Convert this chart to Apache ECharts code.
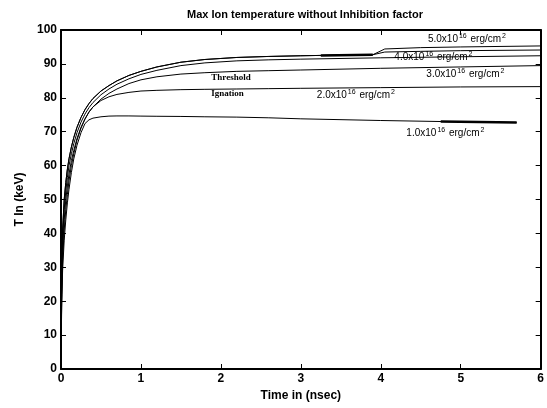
<!DOCTYPE html>
<html>
<head>
<meta charset="utf-8">
<script src="https://cdn.jsdelivr.net/npm/echarts@6/dist/echarts.min.js"></script>
<style>
html,body{margin:0;padding:0;background:#fff;}
#c{width:547px;height:408px;}
</style>
</head>
<body>
<div id="c"></div>
<script>
// ---- data ----
var xTicks = [0, 1, 2, 3, 4, 5, 6];
var yTicks = [0, 10, 20, 30, 40, 50, 60, 70, 80, 90, 100];

var tAB = [0, 0.01, 0.02, 0.04, 0.06, 0.08, 0.1, 0.13, 0.16, 0.2, 0.25, 0.3, 0.35, 0.4, 0.5, 0.6, 0.7, 0.85, 1.0, 1.2, 1.5, 1.8, 2.2, 2.6, 3, 3.5, 3.9, 4.05, 4.5, 5, 6];
var vA  = [8, 32, 41, 50, 55, 59, 62, 65.5, 68.3, 71.3, 74.2, 76.5, 78.3, 79.8, 82, 83.6, 85, 86.6, 87.8, 89.1, 90.5, 91.3, 91.9, 92.2, 92.4, 92.6, 92.7, 94.4, 94.8, 95.0, 95.3];
var vB  = [8, 32, 41, 50, 55, 59, 62, 65.5, 68.3, 71.3, 74.2, 76.5, 78.3, 79.8, 82, 83.6, 85, 86.6, 87.8, 89.1, 90.5, 91.3, 91.9, 92.2, 92.4, 92.6, 92.7, 93.5, 93.7, 93.9, 94.1];

var tStd = [0, 0.01, 0.02, 0.04, 0.06, 0.08, 0.1, 0.13, 0.16, 0.2, 0.25, 0.3, 0.35, 0.4, 0.5, 0.6, 0.7, 0.85, 1.0, 1.2, 1.5, 1.8, 2.2, 2.6, 3, 4, 5, 6];
var vC = [8, 28, 38, 47, 52.5, 56.5, 60, 63.5, 66.5, 69.7, 72.8, 75.2, 77.1, 78.6, 80.9, 82.6, 84, 85.6, 86.9, 88.1, 89.5, 90.3, 90.9, 91.2, 91.4, 91.8, 92.1, 92.4];
var vD = [7, 25, 35, 44, 50, 54, 57.5, 61.5, 64.5, 68, 71.3, 73.8, 75.8, 77.3, 79.6, 81.3, 82.6, 84.2, 85.3, 86.2, 87, 87.4, 87.8, 88, 88.2, 88.7, 89.1, 89.5];
var vE = [6, 22, 32, 41, 47, 51.5, 55.5, 60, 63.5, 67.5, 71, 73.7, 75.8, 77.3, 79.2, 80.3, 81.0, 81.6, 82, 82.2, 82.4, 82.5, 82.6, 82.7, 82.8, 83.0, 83.2, 83.3];

var tF = [0, 0.01, 0.02, 0.04, 0.06, 0.08, 0.1, 0.13, 0.16, 0.2, 0.25, 0.3, 0.35, 0.4, 0.5, 0.6, 0.7, 0.85, 1.0, 1.2, 1.5, 1.8, 2.2, 2.6, 3, 4, 5, 5.7];
var vF = [5, 20, 29, 38, 44, 49, 53, 58, 62, 66, 69.7, 72.4, 73.5, 74.0, 74.4, 74.6, 74.65, 74.65, 74.6, 74.55, 74.5, 74.4, 74.3, 74.1, 73.8, 73.3, 72.9, 72.7];

// overlapping (doubled) segments that look thicker in the original
var tThickAB = [3.25, 3.9];
var vThickAB = [92.5, 92.7];
var tThickF = [4.75, 5.7];
var vThickF = [73.0, 72.7];

// annotation texts
var labelTexts = [
  '5.0x10{s|16} erg/cm{s|2}',
  '4.0x10{s|16} erg/cm{s|2}',
  '3.0x10{s|16} erg/cm{s|2}',
  '{t|Threshold}',
  '{t|Ignation}',
  '2.0x10{s|16} erg/cm{s|2}',
  '1.0x10{s|16} erg/cm{s|2}'
];
// anchor (data coordinates) for each annotation, layout only
var labelAnchors = [[4.59, 97.3], [4.17, 92.0], [4.57, 87.0], [1.88, 85.8], [1.88, 81.1], [3.20, 80.8], [4.32, 69.6]];

function pairs(t, v) { return t.map(function (x, i) { return [x, v[i]]; }); }

var chart = echarts.init(document.getElementById('c'), null, {renderer: 'canvas'});
var FONT = 'Liberation Sans';
var lineSeries = function (t, v, w) {
  return {
    type: 'line', data: pairs(t, v), showSymbol: false, symbol: 'none', smooth: false,
    lineStyle: {color: '#000', width: w || 1}, animation: false, silent: true, z: 3
  };
};
function axisCommon() {
  return {
    axisLine: {show: true, onZero: false, lineStyle: {color: '#000', width: 2}},
    axisTick: {show: true, inside: true, length: 5, lineStyle: {color: '#000', width: 1}},
    splitLine: {show: false}
  };
}

chart.setOption({
  backgroundColor: '#fff',
  animation: false,
  title: {
    text: 'Max Ion temperature without Inhibition factor',
    left: 300, top: 4, textAlign: 'center',
    textStyle: {fontFamily: FONT, fontSize: 11, fontWeight: 'bold', color: '#000'}
  },
  grid: {left: 61, right: 4, top: 30, bottom: 39, containLabel: false},
  xAxis: [
    Object.assign(axisCommon(), {
      type: 'value', min: 0, max: 6, interval: 1, position: 'bottom',
      name: 'Time in (nsec)', nameLocation: 'middle', nameGap: 20,
      nameTextStyle: {fontFamily: FONT, fontSize: 12, fontWeight: 'bold', color: '#000'},
      axisLabel: {fontFamily: FONT, fontSize: 12, fontWeight: 'bold', color: '#000', margin: 4,
        formatter: function (v) { return xTicks.indexOf(v) >= 0 ? String(v) : ''; }}
    }),
    Object.assign(axisCommon(), {
      type: 'value', min: 0, max: 6, interval: 1, position: 'top', axisLabel: {show: false}
    })
  ],
  yAxis: [
    Object.assign(axisCommon(), {
      type: 'value', min: 0, max: 100, interval: 10, position: 'left',
      name: 'T In (keV)', nameLocation: 'middle', nameGap: 34, nameRotate: 90,
      nameTextStyle: {fontFamily: FONT, fontSize: 12, fontWeight: 'bold', color: '#000'},
      axisLabel: {fontFamily: FONT, fontSize: 12, fontWeight: 'bold', color: '#000', margin: 4,
        formatter: function (v) { return yTicks.indexOf(v) >= 0 ? String(v) : ''; }}
    }),
    Object.assign(axisCommon(), {
      type: 'value', min: 0, max: 100, interval: 10, position: 'right', axisLabel: {show: false}
    })
  ],
  series: [
    lineSeries(tAB, vA),
    lineSeries(tAB, vB),
    lineSeries(tStd, vC),
    lineSeries(tStd, vD),
    lineSeries(tStd, vE),
    lineSeries(tF, vF),
    lineSeries(tThickAB, vThickAB, 2.5),
    lineSeries(tThickF, vThickF, 2.5)
  ]
});

var graphics = labelTexts.map(function (txt, i) {
  var p = chart.convertToPixel({xAxisIndex: 0, yAxisIndex: 0}, labelAnchors[i]);
  return {
    type: 'text', x: p[0], y: p[1], z: 10, silent: true,
    style: {
      text: txt, fill: '#000', align: 'left', verticalAlign: 'middle',
      font: '10px "Liberation Sans"',
      rich: {
        s: {fontSize: 7, fontFamily: FONT, verticalAlign: 'top', padding: [0, 1, 6, 1]},
        t: {fontSize: 9, fontFamily: 'Liberation Serif', fontWeight: 'bold'}
      }
    }
  };
});
chart.setOption({graphic: graphics});
</script>
</body>
</html>
